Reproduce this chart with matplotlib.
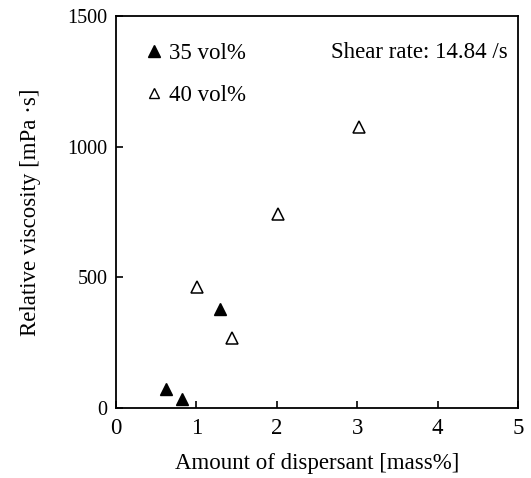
"""Relative viscosity vs amount of dispersant, 35 and 40 vol% slurries."""
import matplotlib; matplotlib.use("Agg"); import matplotlib.pyplot as plt
from matplotlib.lines import Line2D

x35 = [0.62, 0.82, 1.29]
y35 = [73, 34, 379]
x40 = [1.01, 1.44, 2.02, 3.02]
y40 = [463, 268, 742, 1075]
xticks = [0, 1, 2, 3, 4, 5]
yticks = [0, 500, 1000, 1500]

plt.rcParams["font.family"] = ["Liberation Serif", "DejaVu Serif"]
FS = 16.5

fig = plt.figure(figsize=(5.31, 4.78), dpi=100)
ax = fig.add_axes([0.2185, 0.1464, 0.757, 0.820])
ax.plot(x35, y35, ls="none", marker="^", ms=8.5, mfc="black", mec="black")
ax.plot(x40, y40, ls="none", marker="^", ms=8.5, mfc="white", mec="black", mew=1.1)

ax.set_xlim(0, 5); ax.set_ylim(0, 1500)
ax.set_xticks(xticks); ax.set_yticks(yticks)
ax.tick_params(direction="in", length=5, width=1.2)
ax.tick_params(axis="x", pad=7, labelsize=16.5)
ax.tick_params(axis="y", pad=6, labelsize=14.5)
for s in ax.spines.values():
    s.set_linewidth(1.3)
ax.set_xlabel("Amount of dispersant [mass%]", fontsize=FS, labelpad=10)
ax.set_ylabel("Relative viscosity [mPa \u00b7s]", fontsize=FS, labelpad=19)

hd = [Line2D([], [], ls="none", marker="^", ms=8.5, mfc="black", mec="black", label="35 vol%"),
      Line2D([], [], ls="none", marker="^", ms=7, mfc="white", mec="black", label="40 vol%")]
ax.legend(handles=hd, loc="upper left", bbox_to_anchor=(0.02, 0.985), frameon=False,
          fontsize=FS, handlelength=0.8, handletextpad=0.25, labelspacing=0.95)
ax.text(0.975, 0.908, "Shear rate: 14.84 /s", transform=ax.transAxes,
        ha="right", va="center", fontsize=FS)

fig.savefig("out.png", dpi=100)
